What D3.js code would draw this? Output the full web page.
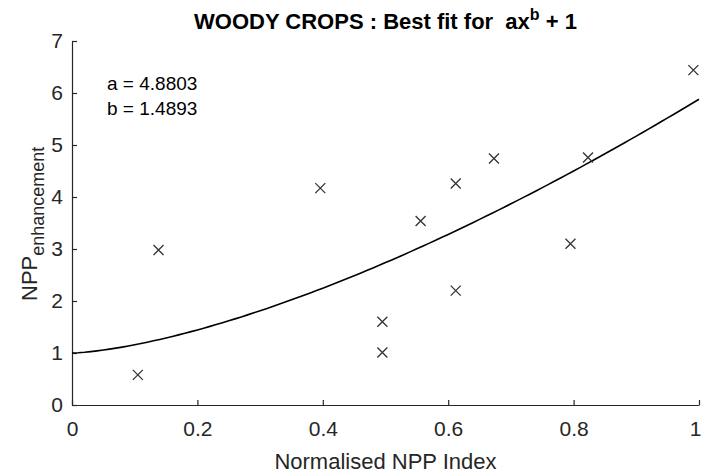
<!DOCTYPE html>
<html><head><meta charset="utf-8">
<script src="https://cdn.jsdelivr.net/npm/d3@7"></script>
<style>body{margin:0;background:#fff}svg{display:block}text{font-family:"Liberation Sans",Arial,sans-serif}</style>
</head><body><svg id="c" width="702" height="474"></svg>
<script>
const xVals = [0.105, 0.138, 0.396, 0.556, 0.495, 0.495, 0.612, 0.612, 0.673, 0.795, 0.823, 0.991];
const yVals = [0.58, 2.98, 4.17, 3.54, 1.60, 1.01, 4.26, 2.20, 4.74, 3.10, 4.76, 6.44];
const xTicks = [0, 0.2, 0.4, 0.6, 0.8, 1];
const xTickLabels = ["0", "0.2", "0.4", "0.6", "0.8", "1"];
const yTicks = [0, 1, 2, 3, 4, 5, 6, 7];
const fitA = 4.8803, fitB = 1.4893;
const fitXs = d3.range(0, 1.0001, 0.01);

const svg = d3.select("#c");
const L = 72, R = 699, T = 41, B = 405;
const x = d3.scaleLinear().domain([0, 1]).range([L, R]);
const y = d3.scaleLinear().domain([0, 7]).range([B, T]);
const ink = "#262626";

// axes
const xa = svg.append("g").attr("transform", `translate(0,${B})`)
  .call(d3.axisBottom(x).tickValues(xTicks).tickFormat((d,i)=>xTickLabels[i]).tickSizeInner(-5).tickSizeOuter(0).tickPadding(16));
const ya = svg.append("g").attr("transform", `translate(${L},0)`)
  .call(d3.axisLeft(y).tickValues(yTicks).tickFormat(d3.format("d")).tickSizeInner(-5).tickSizeOuter(0).tickPadding(9));
[xa, ya].forEach(g => {
  g.select(".domain").attr("stroke", ink).attr("stroke-width", 1.2);
  g.selectAll(".tick line").attr("stroke", ink).attr("stroke-width", 1.2);
  g.selectAll(".tick text").attr("fill", ink).style("font-size", "21px").style("font-family", '"Liberation Sans",Arial,sans-serif');
});
xa.selectAll(".tick").filter(d => d === 1).select("text").attr("dx", -4);

// fit curve
const line = d3.line().x(d => x(d)).y(d => y(fitA * Math.pow(d, fitB) + 1));
svg.append("path").datum(fitXs).attr("d", line).attr("fill", "none").attr("stroke", "#000").attr("stroke-width", 1.6);

// markers
const s = 5;
const pts = xVals.map((v, i) => [v, yVals[i]]);
const m = svg.append("g").attr("stroke", "#333").attr("stroke-width", 1.3);
pts.forEach(p => {
  const cx = x(p[0]), cy = y(p[1]);
  m.append("path").attr("d", `M${cx-s},${cy-s}L${cx+s},${cy+s}M${cx-s},${cy+s}L${cx+s},${cy-s}`);
});

// title
const title = svg.append("text").attr("x", (L+R)/2).attr("y", 29).attr("text-anchor", "middle")
  .attr("fill", "#000").style("font-size", "22px").style("font-weight", "bold");
title.append("tspan").text("WOODY CROPS : Best fit for \u00a0ax");
title.append("tspan").attr("dy", -9).style("font-size", "16px").text("b");
title.append("tspan").attr("dy", 9).text(" + 1");

// annotations
svg.append("text").attr("x", 107).attr("y", 90).attr("fill", "#000").style("font-size", "19px").text("a = 4.8803");
svg.append("text").attr("x", 107).attr("y", 115).attr("fill", "#000").style("font-size", "19px").text("b = 1.4893");

// x label
svg.append("text").attr("x", (L+R)/2).attr("y", 469).attr("text-anchor", "middle").attr("fill", ink)
  .style("font-size", "22px").text("Normalised NPP Index");

// y label
const yl = svg.append("text").attr("transform", "translate(37,301) rotate(-90)").attr("fill", ink).style("font-size", "22px");
yl.append("tspan").text("NPP");
yl.append("tspan").attr("dy", 7).style("font-size", "18px").text("enhancement");
</script></body></html>
